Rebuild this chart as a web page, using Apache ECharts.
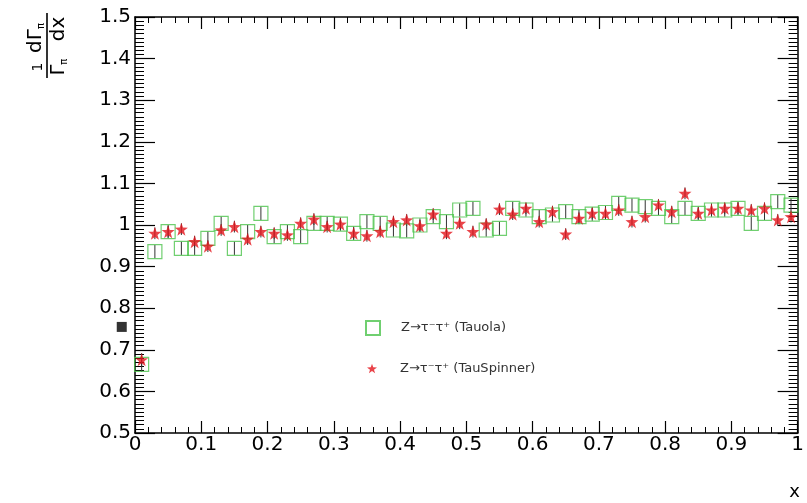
<!DOCTYPE html>
<html>
<head>
<meta charset="utf-8">
<script src="https://cdn.jsdelivr.net/npm/echarts@6/dist/echarts.min.js"></script>
<style>
  html, body { margin: 0; padding: 0; background: #ffffff; }
  #chart { width: 807px; height: 503px; }
</style>
</head>
<body>
<div id="chart"></div>
<script>
// Bin centres of the 50 bins in x (width 0.02)
const binCenters = [
  0.01, 0.03, 0.05, 0.07, 0.09, 0.11, 0.13, 0.15, 0.17, 0.19,
  0.21, 0.23, 0.25, 0.27, 0.29, 0.31, 0.33, 0.35, 0.37, 0.39,
  0.41, 0.43, 0.45, 0.47, 0.49, 0.51, 0.53, 0.55, 0.57, 0.59,
  0.61, 0.63, 0.65, 0.67, 0.69, 0.71, 0.73, 0.75, 0.77, 0.79,
  0.81, 0.83, 0.85, 0.87, 0.89, 0.91, 0.93, 0.95, 0.97, 0.99
];

// Normalised distribution, Z -> tau tau generated with Tauola
const tauolaValues = [
  0.665, 0.936, 0.984, 0.944, 0.944, 0.968, 1.004, 0.944, 0.984, 1.028,
  0.972, 0.984, 0.972, 1.004, 1.004, 1.002, 0.980, 1.008, 1.004, 0.988,
  0.986, 1.000, 1.020, 1.008, 1.036, 1.040, 0.988, 0.992, 1.040, 1.036,
  1.020, 1.024, 1.032, 1.020, 1.026, 1.030, 1.052, 1.048, 1.044, 1.040,
  1.020, 1.040, 1.028, 1.036, 1.036, 1.040, 1.004, 1.028, 1.056, 1.048
];
const tauolaErrors = [
  0.018, 0.016, 0.016, 0.016, 0.016, 0.016, 0.016, 0.016, 0.016, 0.016,
  0.016, 0.016, 0.016, 0.016, 0.016, 0.016, 0.016, 0.016, 0.016, 0.016,
  0.016, 0.016, 0.016, 0.016, 0.016, 0.016, 0.016, 0.016, 0.016, 0.016,
  0.016, 0.016, 0.016, 0.016, 0.016, 0.016, 0.016, 0.016, 0.016, 0.016,
  0.016, 0.016, 0.016, 0.016, 0.016, 0.016, 0.016, 0.016, 0.016, 0.016
];

// Same distribution obtained by reweighting with TauSpinner
const tauSpinnerValues = [
  0.676, 0.980, 0.984, 0.990, 0.960, 0.949, 0.988, 0.996, 0.966, 0.984,
  0.980, 0.976, 1.004, 1.014, 0.996, 1.002, 0.980, 0.974, 0.984, 1.008,
  1.012, 0.998, 1.026, 0.980, 1.004, 0.984, 1.002, 1.038, 1.026, 1.040,
  1.008, 1.032, 0.978, 1.016, 1.028, 1.028, 1.036, 1.008, 1.020, 1.048,
  1.032, 1.076, 1.028, 1.036, 1.040, 1.040, 1.036, 1.040, 1.012, 1.020
];
const tauSpinnerErrors = [
  0.016, 0.014, 0.014, 0.014, 0.014, 0.014, 0.014, 0.014, 0.014, 0.014,
  0.014, 0.014, 0.014, 0.014, 0.014, 0.014, 0.014, 0.014, 0.014, 0.014,
  0.014, 0.014, 0.014, 0.014, 0.014, 0.014, 0.014, 0.014, 0.014, 0.014,
  0.014, 0.014, 0.014, 0.014, 0.014, 0.014, 0.014, 0.014, 0.014, 0.014,
  0.014, 0.014, 0.014, 0.014, 0.014, 0.014, 0.014, 0.014, 0.014, 0.014
];

// Stray filled marker left of the frame
const strayMarker = [[-0.02, 0.755]];

const xTickLabels = ['0', '0.1', '0.2', '0.3', '0.4', '0.5', '0.6', '0.7', '0.8', '0.9', '1'];
const yTickLabels = ['0.5', '0.6', '0.7', '0.8', '0.9', '1', '1.1', '1.2', '1.3', '1.4', '1.5'];

const seriesNames = ['Z\u2192\u03c4\u207b\u03c4\u207a (Tauola)', 'Z\u2192\u03c4\u207b\u03c4\u207a (TauSpinner)'];

const FONT = '"DejaVu Sans", Verdana, sans-serif';
const STAR = 'path://M0,-10L2.35,-3.24L9.51,-3.09L3.8,1.24L5.88,8.09L0,4L-5.88,8.09L-3.8,1.24L-9.51,-3.09L-2.35,-3.24Z';

const xCommon = {
  type: 'value', min: 0, max: 1, interval: 0.1,
  axisLine: { show: true, onZero: false, lineStyle: { color: '#000', width: 1.5 } },
  axisTick: { show: true, inside: true, length: 12, lineStyle: { color: '#000', width: 1.2 } },
  minorTick: { show: true, splitNumber: 5, length: 6, lineStyle: { color: '#000', width: 1 } },
  splitLine: { show: false }
};
const yCommon = {
  type: 'value', min: 0.5, max: 1.5, interval: 0.1,
  axisLine: { show: true, onZero: false, lineStyle: { color: '#000', width: 1.5 } },
  axisTick: { show: true, inside: true, length: 20, lineStyle: { color: '#000', width: 1.2 } },
  minorTick: { show: true, splitNumber: 10, length: 9, lineStyle: { color: '#000', width: 1 } },
  splitLine: { show: false }
};

// Vertical error bar drawn from [x, low, high]
function errorBar(params, api) {
  const top = api.coord([api.value(0), api.value(2)]);
  const bottom = api.coord([api.value(0), api.value(1)]);
  return {
    type: 'line',
    shape: { x1: top[0], y1: top[1], x2: bottom[0], y2: bottom[1] },
    style: { stroke: '#333', lineWidth: 1 }
  };
}

const chart = echarts.init(document.getElementById('chart'), null, { renderer: 'canvas' });

chart.setOption({
  backgroundColor: '#ffffff',
  animation: false,
  grid: { left: 135, right: 9, top: 17, bottom: 70 },
  xAxis: [
    Object.assign({}, xCommon, {
      position: 'bottom',
      axisLabel: {
        color: '#000', fontSize: 20, fontFamily: FONT, margin: 2,
        formatter: v => xTickLabels[Math.round(v * 10)]
      }
    }),
    Object.assign({}, xCommon, { position: 'top', axisLabel: { show: false } })
  ],
  yAxis: [
    Object.assign({}, yCommon, {
      position: 'left',
      axisLabel: {
        color: '#000', fontSize: 20, fontFamily: FONT, margin: 4,
        formatter: v => yTickLabels[Math.round((v - 0.5) * 10)]
      }
    }),
    Object.assign({}, yCommon, { position: 'right', axisLabel: { show: false } })
  ],
  legend: [
    {
      data: [seriesNames[0]], orient: 'vertical', left: 365, top: 320, padding: 0,
      itemWidth: 14, itemHeight: 14, itemGap: 0,
      textStyle: { color: '#333', fontSize: 13, fontFamily: FONT, padding: [0, 0, 0, 16] }
    },
    {
      data: [seriesNames[1]], orient: 'vertical', left: 367, top: 362, padding: 0,
      itemWidth: 10, itemHeight: 10, itemGap: 0,
      textStyle: { color: '#333', fontSize: 13, fontFamily: FONT, padding: [0, 0, 0, 18] }
    }
  ],
  series: [
    {
      name: 'tauola-err', type: 'custom', renderItem: errorBar, silent: true, z: 1,
      data: binCenters.map((x, i) => [x, tauolaValues[i] - tauolaErrors[i], tauolaValues[i] + tauolaErrors[i]])
    },
    {
      name: 'spinner-err', type: 'custom', renderItem: errorBar, silent: true, z: 1,
      data: binCenters.map((x, i) => [x, tauSpinnerValues[i] - tauSpinnerErrors[i], tauSpinnerValues[i] + tauSpinnerErrors[i]])
    },
    {
      name: seriesNames[0], type: 'scatter',
      data: binCenters.map((x, i) => [x, tauolaValues[i]]),
      symbol: 'rect', symbolSize: 14, z: 2,
      itemStyle: { color: 'rgba(0,0,0,0)', borderColor: '#4cc34c', borderWidth: 1.2 }
    },
    {
      name: seriesNames[1], type: 'scatter',
      data: binCenters.map((x, i) => [x, tauSpinnerValues[i]]),
      symbol: STAR, symbolSize: 13, z: 3,
      itemStyle: { color: '#e3141c' }
    },
    {
      name: 'stray', type: 'scatter', data: strayMarker, clip: false,
      symbol: 'rect', symbolSize: 10, silent: true,
      itemStyle: { color: '#000' }
    }
  ],
  graphic: [
    {
      // y-axis title: (1/Gamma_pi) dGamma_pi/dx, rotated
      type: 'group', x: 47, y: 45, rotation: Math.PI / 2,
      children: [
        { type: 'line', shape: { x1: -33, y1: 0, x2: 32, y2: 0 }, style: { stroke: '#000', lineWidth: 1.6 } },
        { type: 'text', x: -22, y: -2, style: { text: '1', fontSize: 14, fontFamily: FONT, fill: '#000', align: 'center', verticalAlign: 'bottom' } },
        { type: 'text', x: 7, y: -1, style: {
            text: '{a|d\u0393}{s|\u03c0}', align: 'center', verticalAlign: 'bottom',
            rich: { a: { fontSize: 20, fontFamily: FONT, fill: '#000' }, s: { fontSize: 10, fontFamily: FONT, fill: '#000', padding: [10, 0, 0, 0] } }
        } },
        { type: 'text', x: -22, y: 2, style: {
            text: '{a|\u0393}{s|\u03c0}', align: 'center', verticalAlign: 'top',
            rich: { a: { fontSize: 19, fontFamily: FONT, fill: '#000' }, s: { fontSize: 10, fontFamily: FONT, fill: '#000', padding: [10, 0, 0, 0] } }
        } },
        { type: 'text', x: 16, y: 2, style: { text: 'dx', fontSize: 20, fontFamily: FONT, fill: '#000', align: 'center', verticalAlign: 'top' } }
      ]
    },
    {
      type: 'text', right: 7, bottom: 2,
      style: { text: 'x', fontSize: 18, fontFamily: FONT, fill: '#000' }
    }
  ]
});
</script>
</body>
</html>
